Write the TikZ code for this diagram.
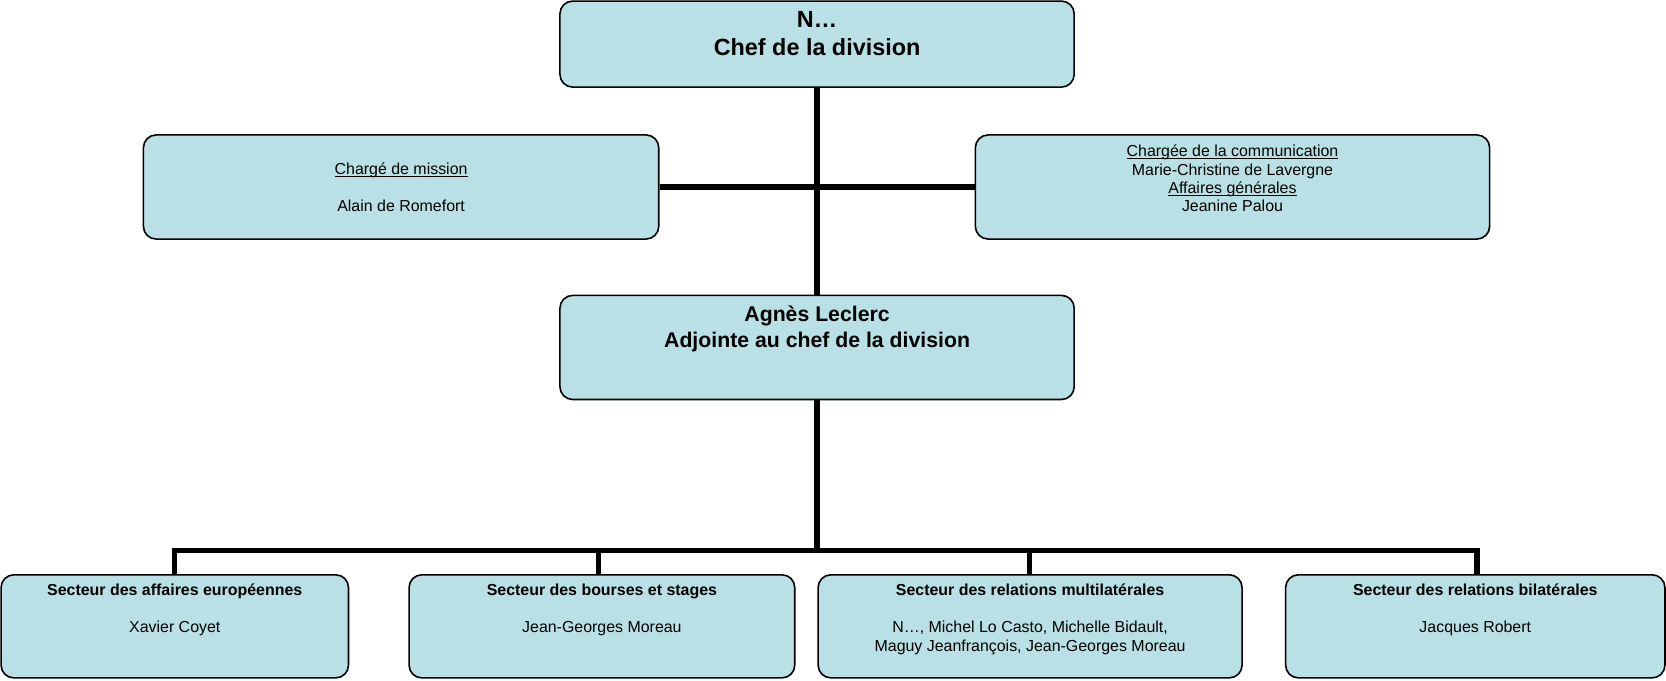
\documentclass[tikz,border=0pt]{standalone}
\usepackage{fontspec}
\setmainfont{Liberation Sans}
\definecolor{boxfill}{RGB}{185,224,228}
\newcommand\myul[1]{\leavevmode\setbox0\hbox{#1}\rlap{\rule[-2pt]{\wd0}{0.8pt}}\box0}
\begin{document}
\begin{tikzpicture}[x=1pt,y=1pt,
  box/.style={draw=black, line width=1.5pt, fill=boxfill, rounded corners=12pt, inner sep=0pt},
  conn/.style={draw=black, line width=5pt, line join=miter},
  txt/.style={anchor=base, inner sep=0pt},
  big/.style={txt, font=\fontsize{22}{26}\selectfont\bfseries},
  mid/.style={txt, font=\fontsize{20}{24}\selectfont\bfseries},
  small/.style={txt, font=\fontsize{15}{17.4}\selectfont},
  smallb/.style={txt, font=\fontsize{15}{17.4}\selectfont\bfseries}]
\useasboundingbox (0,0) rectangle (1568,-640);
% boxes
\node[box, minimum width=484pt, minimum height=81pt] (top) at (769,-41.5) {};
\node[box, minimum width=485pt, minimum height=98pt] (left) at (377.5,-176) {};
\node[box, minimum width=484pt, minimum height=98pt] (right) at (1160,-176) {};
\node[box, minimum width=484pt, minimum height=98pt] (adj) at (769,-327) {};
\node[box, minimum width=327pt, minimum height=97pt] (b1) at (164.5,-589.5) {};
\node[box, minimum width=363pt, minimum height=97pt] (b2) at (566.5,-589.5) {};
\node[box, minimum width=399pt, minimum height=97pt] (b3) at (969.5,-589.5) {};
\node[box, minimum width=357pt, minimum height=97pt] (b4) at (1388.5,-589.5) {};
% connectors
\coordinate (bus) at (769,-518);
\draw[conn] (top.south) -- (adj.north);
\draw[conn] (left.east) -- (right.west);
\draw[conn] (adj.south) -- (bus);
\coordinate (d1) at (164,-541);
\coordinate (d2) at (563,-541);
\coordinate (d3) at (969,-541);
\coordinate (d4) at (1390,-541);
\draw[conn] (d1) |- (bus) -| (d4);
\draw[conn] (d2) -- (d2 |- bus);
\draw[conn] (d3) -- (d3 |- bus);
% texts
\node[big] (ttop1) at (769,-26) {N…};
\node[big] (ttop2) at (769,-52) {Chef de la division};
\node[small] (tl1) at (377.5,-164.5) {\myul{Chargé de mission}};
\node[small] (tl2) at (377.5,-199.5) {Alain de Romefort};
\node[small] (tr1) at (1160,-147.5) {\myul{Chargée de la communication}};
\node[small] (tr2) at (1160,-164.8) {Marie-Christine de Lavergne};
\node[small] (tr3) at (1160,-182.1) {\myul{Affaires générales}};
\node[small] (tr4) at (1160,-199.4) {Jeanine Palou};
\node[mid] (tadj1) at (769,-303) {Agnès Leclerc};
\node[mid] (tadj2) at (769,-327) {Adjointe au chef de la division};
\node[smallb] (t1a) at (164.5,-560.5) {Secteur des affaires européennes};
\node[small] (t1b) at (164.5,-595.5) {Xavier Coyet};
\node[smallb] (t2a) at (566.5,-560.5) {Secteur des bourses et stages};
\node[small] (t2b) at (566.5,-595.5) {Jean-Georges Moreau};
\node[smallb] (t3a) at (969.5,-560.5) {Secteur des relations multilatérales};
\node[small] (t3b1) at (969.5,-595.5) {N…, Michel Lo Casto, Michelle Bidault,};
\node[small] (t3b2) at (969.5,-613) {Maguy Jeanfrançois, Jean-Georges Moreau};
\node[smallb] (t4a) at (1388.5,-560.5) {Secteur des relations bilatérales};
\node[small] (t4b) at (1388.5,-595.5) {Jacques Robert};
\end{tikzpicture}
\end{document}
